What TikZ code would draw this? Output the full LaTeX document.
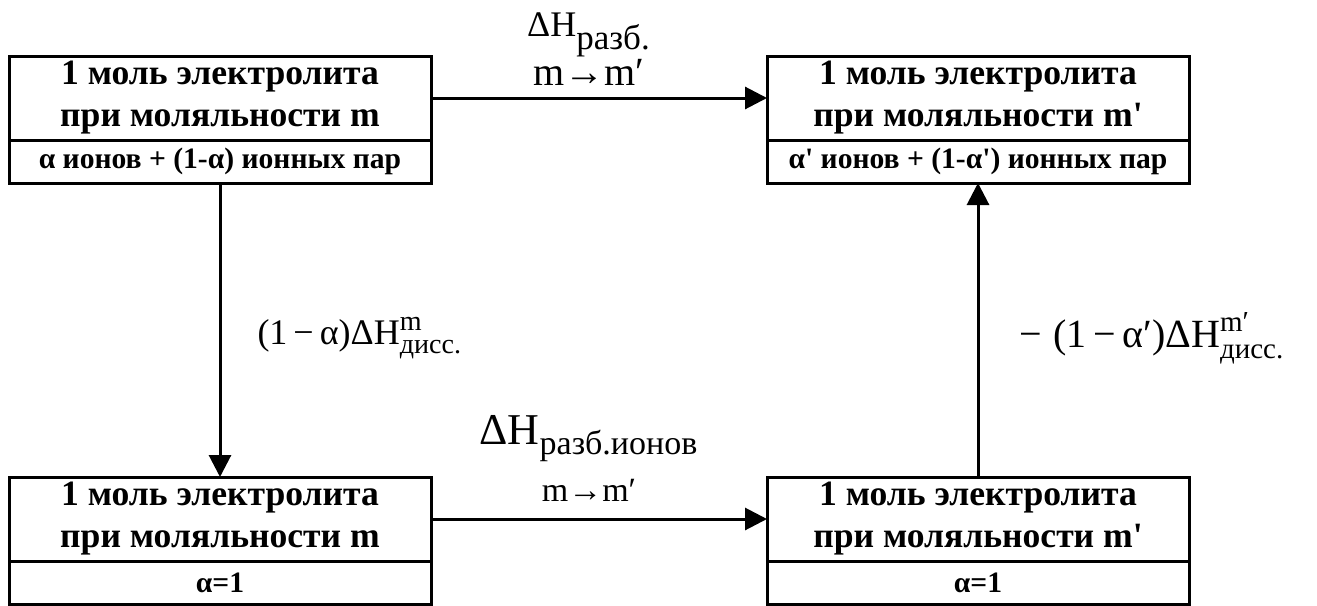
\documentclass[tikz,border=0pt]{standalone}
\usepackage{amsmath}
\usepackage{fontspec}
\setmainfont{Liberation Serif}[Ligatures=TeXOff]
\usetikzlibrary{arrows.meta,positioning}
\renewcommand\defaultscriptratio{.78}
% text at a given size inside a sub- or superscript
\newcommand\sz[2]{\text{\fontsize{#1}{#1}\selectfont #2}}

\begin{document}
\begin{tikzpicture}[x=0.5pt,y=-0.5pt,->,>={Triangle[length=11pt,width=11pt]},auto,
                    line width=1.5pt,node distance=168pt]
  \tikzstyle{head}=[draw,outer sep=0pt,inner sep=0pt,minimum width=211pt,minimum height=42pt,
                    align=center,font=\bfseries\fontsize{17.8}{21}\selectfont]
  \tikzstyle{part}=[draw,outer sep=0pt,inner sep=0pt,minimum width=211pt,minimum height=21.5pt,
                    anchor=north,font=\bfseries\fontsize{14.8}{17}\selectfont]
  \tikzstyle{lbl}=[align=center,xshift=-5pt,inner sep=5.5pt,font=\fontsize{18}{24.5}\selectfont]
  \tikzstyle{side}=[font=\fontsize{18}{21}\selectfont,inner sep=0pt,xshift=18pt,yshift=-4pt]

  \useasboundingbox (0,0) rectangle (1317,605);

  \node[head]   (A) at (220,98) {1 моль электролита\\при моляльности m};
  \node[part]   (a) at (A.south) {α ионов + (1-α) ионных пар};
  \node[head]   (B) [right=of A] {1 моль электролита\\при моляльности m'};
  \node[part]   (b) at (B.south) {α' ионов + (1-α') ионных пар};
  \node[head]   (C) [below=147pt of a] {1 моль электролита\\при моляльности m};
  \node[part]   (c) at (C.south) {α=1};
  \node[head]   (D) [right=of C] {1 моль электролита\\при моляльности m'};
  \node[part]   (d) at (D.south) {α=1};

  \path (A) edge node[lbl] {ΔH$_{\sz{17.5}{разб.}}$\\
                            \fontsize{20}{24.5}\selectfont m→m′} (B)
        (a) edge node[side] {$\text{(1\,−\,α)ΔH}^{\text{m}}_{\text{дисс.}}$} (C)
        (C) edge node[lbl,inner sep=8pt,font=\fontsize{22}{28.5}\selectfont]
              {ΔH$_{\sz{17}{разб.ионов}}$\\
               \fontsize{17}{28.5}\selectfont m→m′} (D)
        (D) edge node[side,swap,xshift=2pt,font=\fontsize{20}{23}\selectfont]
              {$\text{−\;(1\,−\,α′)ΔH}^{\sz{14.5}{m′}}_{\sz{14.5}{дисс.}}$} (b);
\end{tikzpicture}
\end{document}
